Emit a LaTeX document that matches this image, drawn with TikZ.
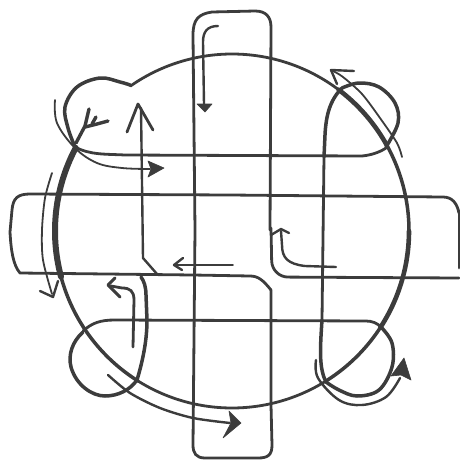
\documentclass[tikz,border=0pt]{standalone}
\usetikzlibrary{arrows.meta}
\definecolor{ink}{HTML}{3C3C3C}
\tikzset{
  wire/.style={draw=ink,line width=2.8pt,line join=round,line cap=round},
  mid/.style={draw=ink,line width=3.5pt,line join=round,line cap=round},
  heavy/.style={draw=ink,line width=4.6pt,line join=round,line cap=round},
  heavier/.style={draw=ink,line width=6pt,line join=round,line cap=round},
  flow/.style={draw=ink,line width=1.8pt,line join=round,line cap=round},
  flowb/.style={draw=ink,line width=2.4pt,line join=round,line cap=round},
  headfill/.style={fill=ink,draw=ink,line width=.6pt,line join=round},
  barb/.style={draw=ink,line width=2.4pt,line cap=round,line join=round}
}
\newcommand{\ringarc}[3]{\draw[#1] plot[domain=#2:#3,samples=40,smooth] ({232+177*cos(\x)},{231+177*sin(\x)});}
\begin{document}
\begin{tikzpicture}[x=1pt,y=-1pt]
\useasboundingbox (0,0) rectangle (459,461);
% ring
\ringarc{wire}{235}{307}
\ringarc{heavy}{307}{331}
\ringarc{mid}{331}{360}
\ringarc{heavy}{0}{33}
\ringarc{mid}{33}{58}
\ringarc{wire}{58}{122}
\ringarc{mid}{122}{165}
\ringarc{heavier}{165}{208}
% lobes
\draw[mid] plot[smooth,tension=.6] coordinates {(130,85) (120,82) (100,78) (77,87) (65,107) (68,128) (75,147)};
\draw[mid] plot[smooth,tension=.6] coordinates {(386,147) (398,123) (395,103) (379,87) (359,83) (342,88)};
\draw[mid] plot[smooth,tension=.6] coordinates {(381,327) (392,343) (392,367) (379,390) (357,396) (339,390) (326,382)};
\draw[mid] (83,332) .. controls (72,342) and (68,355) .. (71,367) .. controls (76,385) and (92,396) .. (105,396) .. controls (118,396) and (130,390) .. (137,380);
% upper and lower chords
\draw[wire] (75,147) .. controls (90,155) and (105,154) .. (125,155) -- (362,156) .. controls (372,155) and (380,152) .. (386,148);
\draw[wire] (83,331) .. controls (92,323) and (100,320) .. (115,320) -- (366,321) .. controls (372,321) and (377,323) .. (381,327);
% right-hand vertical chord
\draw[mid] (342,88) .. controls (330,100) and (326,115) .. (325,135) -- (324,157);
\draw[wire] (324,157) -- (322,320);
\draw[mid] (322,320) .. controls (320,350) and (319,368) .. (326,382);
% left-hand vertical chord
\draw[mid] (137,380) .. controls (143,360) and (147,340) .. (147,320) -- (146,295) .. controls (146,287) and (144,281) .. (141,277);
% horizontal band
\draw[wire,rounded corners=16pt] (271,228) -- (272,277) -- (459,278);
\draw[wire] (459,213) .. controls (457,203) and (452,197) .. (443,197) -- (230,195) -- (30,194) .. controls (18,194) and (13,198) .. (12,210) -- (10,232) .. controls (11,250) and (13,265) .. (20,273) -- (193,275) -- (250,276) .. controls (258,276) and (263,280) .. (271,290);
\draw[wire] (459,213) -- (459,268);
% vertical band
\draw[wire] (271,290) -- (271,405) -- (272,445) .. controls (272,455) and (268,458) .. (258,458) -- (205,458) .. controls (196,458) and (193,453) .. (193,445) -- (195,230) -- (193,35) .. controls (193,20) and (198,14) .. (212,12) -- (255,11) .. controls (266,11) and (271,17) .. (271,27) -- (270,230);
% top arrow
\draw[flowb] (218,26) .. controls (207,26) and (203,32) .. (203,42) -- (204,104);
\fill[headfill] (205,112) -- (197,104) -- (212,104) -- cycle;
% centre-left long arrow
\draw[flowb] (157,274) -- (143,258) -- (141,108);
\draw[barb,line width=2.8pt] (127,132) -- (138,104) -- (153,130);
% upper-left arrow
\draw[flow] plot[smooth,tension=.6] coordinates {(55,100) (57,123) (75,148) (97,163) (122,168) (150,169)};
\fill[headfill] (164,168) -- (148,161) -- (151,169) -- (148,177) -- cycle;
% upper-left forked tip
\draw[heavy,line width=3.4pt] (76,143) -- (85,126) -- (89,109);
\draw[heavy,line width=3.4pt] (85,127) -- (97,124) -- (108,121);
\draw[heavy,line width=3.4pt] (92,124) -- (96,117);
% left arrow
\draw[flow] plot[smooth,tension=.5] coordinates {(52,173) (45,198) (42,230) (43,260) (52,294)};
\draw[barb] (40,291) -- (53,297) -- (58,281);
% top-right arrow
\draw[flow] plot[smooth,tension=.5] coordinates {(402,157) (397,143) (380,118) (362,94) (343,77) (333,71)};
\draw[barb] (354,71) -- (331,70) -- (337,84);
% centre arrow going left
\draw[flow] (233,265) -- (176,265);
\draw[barb] (183,258) -- (174,265) -- (182,270);
% centre right arrow
\draw[flowb] (336,267) -- (305,266) .. controls (288,264) and (282,258) .. (282,245) -- (281,231);
\draw[barb] (271,235) -- (281,229) -- (289,233);
% lower-left small arrow
\draw[flowb,line width=2.8pt] (133,347) -- (134,300) .. controls (134,291) and (130,288) .. (122,288) -- (111,286);
\draw[barb,line width=3pt] (115,278) -- (108,285) -- (120,297);
% bottom arrow
\draw[flowb] plot[smooth,tension=.5] coordinates {(108,375) (130,393) (160,408) (193,418) (230,423)};
\fill[headfill] (241,423) -- (229,411) -- (231,423) -- (223,438) -- cycle;
% bottom-right arrow
\draw[flowb] plot[smooth,tension=.6] coordinates {(316,360) (318,378) (339,400) (362,405) (386,397) (400,378)};
\fill[headfill] (404,358) -- (391,376) -- (401,375) -- (411,380) -- cycle;
\end{tikzpicture}
\end{document}
